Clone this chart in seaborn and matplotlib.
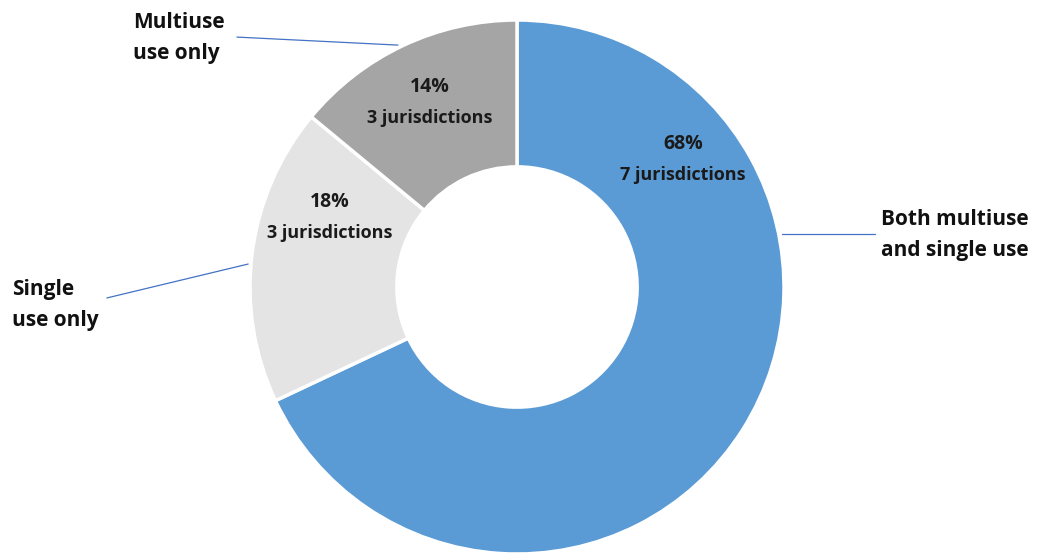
import matplotlib
matplotlib.use("Agg")
import matplotlib.pyplot as plt
import seaborn as sns

sns.set_theme(style="white")
plt.rcParams['font.family'] = ['Open Sans', 'DejaVu Sans']

# data
categories = ['Both multiuse\nand single use', 'Single\nuse only', 'Multiuse\nuse only']
shares = [68, 18, 14]
counts = [7, 3, 3]
colors = ['#5B9BD5', '#E4E4E4', '#A5A5A5']

# layout (pixels of the reference mapped to data units, radius = 1)
inner_pos = [(0.622, 0.476), (-0.700, 0.258), (-0.326, 0.689)]
outer_pos = [(1.363, 0.195), (-1.891, -0.067), (-1.438, 0.933)]
leader_lines = [((0.993, 1.341), (0.199, 0.199)),
                ((-1.007, -1.536), (0.086, -0.041)),
                ((-0.446, -1.049), (0.906, 0.936))]

fig = plt.figure(figsize=(10.37, 5.54), dpi=100)
ax = fig.add_axes([0, 0, 1, 1])

wedges, _ = ax.pie(shares, colors=colors, startangle=90, counterclock=False,
                   radius=1, wedgeprops=dict(width=0.55, edgecolor='white', linewidth=2.5))

for (x, y), s, c in zip(inner_pos, shares, counts):
    ax.text(x, y + 0.06, f'{s}%', ha='center', va='center', fontsize=14,
            fontweight='bold', color='#1a1a1a')
    ax.text(x, y - 0.055, f'{c} jurisdictions', ha='center', va='center', fontsize=13,
            fontweight='bold', color='#1a1a1a')

for (x, y), lab in zip(outer_pos, categories):
    ax.text(x, y, lab, ha='left', va='center', fontsize=15, fontweight='bold',
            color='#111111', linespacing=1.6)

for xs, ys in leader_lines:
    ax.plot(xs, ys, color='#4472C4', linewidth=0.9)

ax.set_xlim(-517 / 267, (1037 - 517) / 267)
ax.set_ylim(-(554 - 287) / 267, 287 / 267)
ax.set_aspect('auto')
ax.axis('off')

fig.savefig('out.png', dpi=100)
